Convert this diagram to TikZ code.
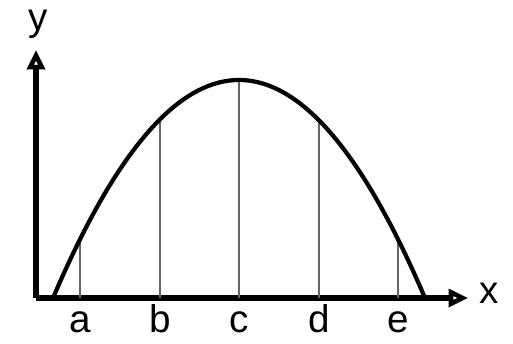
\documentclass[tikz,border=0pt]{standalone}
\usepackage{fontspec}
\setmainfont{Liberation Sans}
\usetikzlibrary{arrows.meta, positioning}

\begin{document}
\begin{tikzpicture}[
  x=0.02cm, y=-0.02cm,
  axis/.style={line width=2.9pt,
    -{Triangle[open, length=11pt, width=10pt, line width=2.6pt]}},
  curve/.style={line width=2.4pt},
  ordinate/.style={line width=0.9pt, black!60},
  lbl/.style={font=\fontsize{22}{22}\selectfont, inner sep=1pt,
    text height=1.6ex, text depth=0.3ex}
]
  \useasboundingbox (0,0) rectangle (513,343);
  \coordinate (o) at (36,298);
  \coordinate (xt) at (468,298);
  \coordinate (yt) at (36,50);

  % axes
  \draw[axis] (o) -- (xt);
  \draw[axis] (o) -- (yt);
  \node[lbl] (xl) at (489,297) {x};
  \node[lbl] (yl) at (38,24) {y};

  % ordinates under the arch
  \foreach \n/\px in {a/80, b/160, c/239, d/319, e/398} {
    \coordinate (\n base) at (\px,298);
    \coordinate (\n top) at (\px,{298-218*(1-((\px-239)/186)^2)});
    \draw[ordinate] (\n base) -- (\n top);
    \node[lbl, below=10pt of \n base] (\n) {\n};
  }

  % the arch
  \draw[curve] plot[domain=53:425, samples=80, smooth]
    (\x,{298-218*(1-((\x-239)/186)^2)});
\end{tikzpicture}
\end{document}
